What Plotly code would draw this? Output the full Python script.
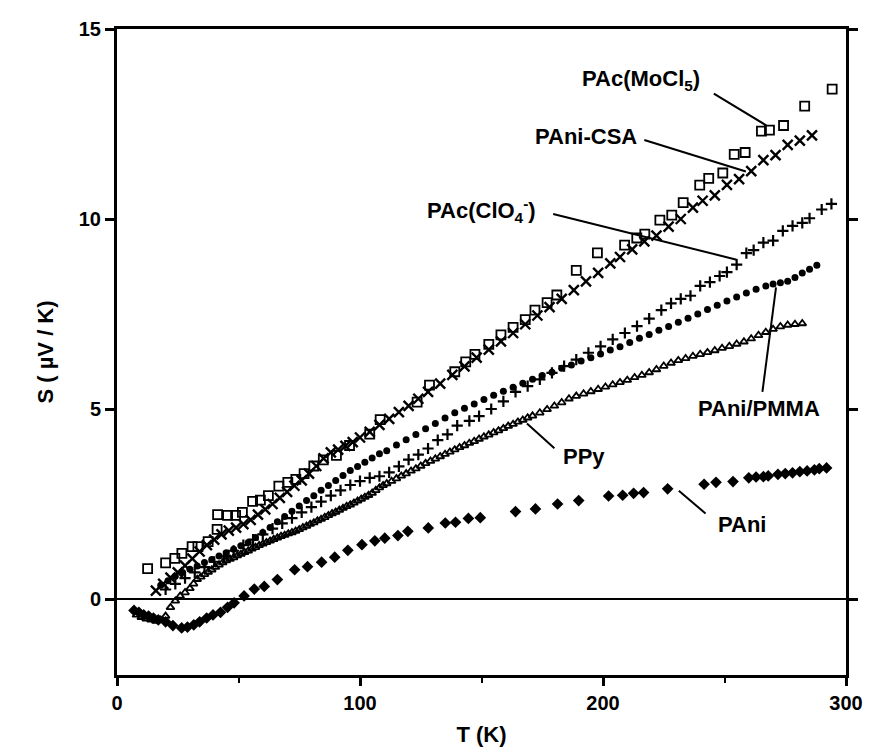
import plotly.graph_objects as go

# ---------------- data ----------------
mocl5_T = [12.6, 20, 23.8, 26.7, 30.9, 33.3, 37.5, 41.2, 41.4, 45.5, 48.8, 51.6, 55.8, 59, 62.3, 66.6,
           70.3, 73.6, 77, 81, 84.9, 90.3, 95.7, 104, 108.3, 123.5, 128.6, 139, 143.5, 147.3, 153, 158,
           163, 168, 172, 177, 181, 189, 197.7, 208.9, 213.9, 217.2, 223.4, 228.3, 233, 239.8, 243.5,
           249.3, 254, 258.5, 265.2, 268.5, 274.3, 283, 294.3]
mocl5_S = [0.80, 0.95, 1.07, 1.20, 1.38, 1.38, 1.51, 1.83, 2.22, 2.20, 2.20, 2.28, 2.57, 2.60, 2.72, 2.97,
           3.07, 3.15, 3.30, 3.50, 3.66, 3.78, 4.04, 4.34, 4.72, 5.18, 5.63, 5.98, 6.24, 6.44, 6.70, 6.95,
           7.15, 7.35, 7.60, 7.80, 8.00, 8.65, 9.11, 9.31, 9.50, 9.60, 9.97, 10.10, 10.43, 10.89, 11.07,
           11.21, 11.70, 11.75, 12.31, 12.34, 12.46, 12.97, 13.42]

csa_T = [16, 19, 22, 25, 28, 31, 34, 37, 40, 43, 46, 49, 52, 55, 58, 61, 64, 67, 70, 73, 76, 79, 82, 85,
         88, 91, 94, 97, 100, 104, 108, 112, 116, 120, 124, 128, 133, 138, 143, 148, 153, 158, 163, 168,
         173, 178, 183, 188, 193, 198, 203, 207, 212, 217, 222, 227, 232, 237, 241, 246, 251, 256, 261,
         266, 271, 276, 281, 286]
csa_S = [0.22, 0.40, 0.56, 0.70, 0.88, 1.06, 1.25, 1.42, 1.56, 1.70, 1.80, 1.88, 1.97, 2.08, 2.22, 2.36,
         2.50, 2.66, 2.82, 2.98, 3.12, 3.30, 3.50, 3.70, 3.86, 3.93, 4.03, 4.13, 4.25, 4.40, 4.58, 4.74,
         4.92, 5.08, 5.27, 5.45, 5.67, 5.90, 6.12, 6.35, 6.56, 6.78, 7.00, 7.23, 7.46, 7.68, 7.90, 8.13,
         8.36, 8.58, 8.83, 9.00, 9.20, 9.41, 9.56, 9.80, 10.00, 10.30, 10.48, 10.62, 10.90, 11.05, 11.26,
         11.55, 11.68, 11.95, 12.06, 12.20]

clo4_T = [20, 24, 28, 32, 36, 40, 44, 48, 52, 56, 60, 64, 68, 72, 76, 80, 84, 88, 92, 96, 100, 104, 108,
          112, 116, 120, 124, 128, 132, 136, 140, 145, 149, 154, 159, 164, 169, 174, 179, 184, 189, 194,
          199, 204, 209, 214, 219, 224, 228, 232, 236, 240, 244, 248, 251, 255, 259, 262, 266, 270, 274,
          278, 282, 285, 290, 294]
clo4_S = [0.25, 0.40, 0.55, 0.70, 0.84, 0.98, 1.12, 1.27, 1.42, 1.56, 1.70, 1.85, 1.99, 2.13, 2.28, 2.42,
          2.56, 2.72, 2.86, 3.00, 3.10, 3.19, 3.23, 3.33, 3.49, 3.67, 3.80, 3.96, 4.18, 4.33, 4.56, 4.69,
          4.81, 5.00, 5.20, 5.45, 5.60, 5.78, 5.95, 6.13, 6.30, 6.48, 6.65, 6.83, 7.00, 7.18, 7.38, 7.60,
          7.78, 7.90, 7.98, 8.24, 8.34, 8.50, 8.60, 8.80, 9.10, 9.18, 9.38, 9.43, 9.69, 9.82, 9.90, 10.02,
          10.25, 10.40]

pmma_T = [18, 21, 24, 27, 30, 33, 36, 39, 42, 45, 48, 51, 54, 57, 60, 63, 66, 69, 72, 75, 78, 81, 84, 87,
          90, 93, 96, 99, 102, 105, 108, 111, 115, 119, 123, 127, 131, 135, 139, 143, 147, 151, 155, 159,
          163, 167, 171, 175, 179, 183, 187, 191, 195, 199, 203, 207, 211, 215, 219, 223, 227, 231, 235,
          239, 243, 247, 251, 255, 259, 263, 267, 270, 273, 276, 279, 282, 285, 288]
pmma_S = [0.36, 0.48, 0.60, 0.70, 0.78, 0.87, 0.96, 1.04, 1.13, 1.22, 1.31, 1.40, 1.49, 1.62, 1.75, 1.88,
          2.03, 2.17, 2.31, 2.45, 2.59, 2.72, 2.86, 2.99, 3.12, 3.25, 3.38, 3.49, 3.60, 3.71, 3.82, 3.90,
          4.05, 4.19, 4.33, 4.48, 4.62, 4.76, 4.90, 5.02, 5.13, 5.25, 5.36, 5.47, 5.57, 5.68, 5.78, 5.88,
          5.97, 6.07, 6.16, 6.26, 6.35, 6.45, 6.55, 6.64, 6.75, 6.86, 6.96, 7.07, 7.17, 7.28, 7.39, 7.50,
          7.62, 7.73, 7.84, 7.95, 8.05, 8.15, 8.24, 8.29, 8.32, 8.36, 8.46, 8.58, 8.68, 8.78]

ppy_T = [8, 10, 12, 14, 16, 18, 20, 22, 24, 26, 28, 30, 31.5, 33, 34.5, 36, 37.5, 39, 40.5, 42, 43.5, 45,
         46.5, 48, 49.5, 51, 52.5, 54, 55.5, 57, 58.5, 60, 61.5, 63, 64.5, 66, 67.5, 69, 70.5, 72, 73.5, 75,
         76.5, 78, 79.5, 81, 82.5, 84, 85.5, 87, 88.5, 90, 91.5, 93, 94.5, 96, 97.5, 99, 100.5, 102, 103.5,
         105, 106.5, 108, 109.5, 111, 113, 115, 117, 119, 121, 123, 125, 127, 129, 131, 133, 135, 137, 139,
         141, 143, 145, 147, 149, 151, 153, 155, 157, 159, 161, 163, 165, 167, 169, 171, 174, 177, 180, 183,
         186, 189, 192, 195, 198, 201, 204, 207, 210, 213, 216, 219, 222, 225, 228, 231, 234, 237, 240, 243,
         246, 249, 252, 255, 258, 261, 264, 267, 270, 273, 276, 279, 282]
ppy_S = [-0.42, -0.48, -0.52, -0.55, -0.58, -0.55, -0.45, -0.22, -0.05, 0.08, 0.17, 0.28, 0.40, 0.52, 0.58,
         0.65, 0.71, 0.77, 0.84, 0.90, 0.96, 1.01, 1.05, 1.09, 1.14, 1.18, 1.23, 1.27, 1.32, 1.36, 1.41,
         1.45, 1.49, 1.53, 1.57, 1.61, 1.65, 1.68, 1.72, 1.75, 1.79, 1.83, 1.88, 1.92, 1.97, 2.01, 2.06,
         2.10, 2.15, 2.20, 2.25, 2.29, 2.34, 2.39, 2.44, 2.48, 2.53, 2.58, 2.63, 2.68, 2.73, 2.79, 2.86,
         2.93, 2.99, 3.04, 3.10, 3.17, 3.24, 3.30, 3.37, 3.43, 3.50, 3.57, 3.63, 3.69, 3.75, 3.81, 3.87,
         3.93, 3.99, 4.04, 4.10, 4.15, 4.21, 4.27, 4.32, 4.38, 4.43, 4.49, 4.55, 4.60, 4.66, 4.71, 4.77,
         4.82, 4.90, 4.99, 5.08, 5.17, 5.27, 5.34, 5.40, 5.46, 5.52, 5.58, 5.64, 5.70, 5.76, 5.83, 5.89,
         5.96, 6.04, 6.13, 6.21, 6.28, 6.33, 6.39, 6.44, 6.49, 6.54, 6.60, 6.65, 6.71, 6.77, 6.85, 6.94,
         7.02, 7.10, 7.17, 7.21, 7.23, 7.25]

pani_T = [7, 9, 11, 13, 15, 17, 20, 23, 26.6, 29, 31.6, 34, 36.9, 39.5, 42.6, 45.5, 48.2, 52.3, 56.5, 60.6,
          66, 73.1, 78.4, 84.2, 89.6, 95, 100.8, 106.1, 110.2, 115.6, 119.7, 128.1, 135.1, 139.3, 144.6,
          149.5, 164, 172.2, 181.3, 190, 202.3, 208.1, 212.6, 216.7, 226.6, 241.6, 246.5, 253.5, 260, 263,
          266, 268, 272, 275, 278, 281, 284, 287, 289, 292]
pani_S = [-0.30, -0.35, -0.42, -0.45, -0.50, -0.55, -0.60, -0.70, -0.76, -0.74, -0.68, -0.60, -0.50, -0.42,
          -0.35, -0.22, -0.10, 0.08, 0.26, 0.33, 0.51, 0.77, 0.85, 0.97, 1.10, 1.28, 1.43, 1.53, 1.60, 1.67,
          1.78, 1.87, 2.00, 2.02, 2.12, 2.14, 2.30, 2.37, 2.50, 2.59, 2.71, 2.73, 2.78, 2.80, 2.90, 3.02,
          3.07, 3.09, 3.19, 3.21, 3.22, 3.24, 3.28, 3.30, 3.32, 3.35, 3.37, 3.40, 3.43, 3.45]

x_ticks = [0, 100, 200, 300]
y_ticks = [0, 5, 10, 15]

# ---------------- figure ----------------
fig = go.Figure()
K = "black"
fig.add_trace(go.Scatter(x=mocl5_T, y=mocl5_S, mode="markers", name="PAc(MoCl5)",
                         marker=dict(symbol="square-open", size=9, color=K, line=dict(width=1.8, color=K))))
fig.add_trace(go.Scatter(x=csa_T, y=csa_S, mode="markers", name="PAni-CSA",
                         marker=dict(symbol="x-thin-open", size=10, color=K, line=dict(width=2.4, color=K))))
fig.add_trace(go.Scatter(x=clo4_T, y=clo4_S, mode="markers", name="PAc(ClO4-)",
                         marker=dict(symbol="cross-thin-open", size=8, color=K, line=dict(width=2.2, color=K))))
fig.add_trace(go.Scatter(x=pmma_T, y=pmma_S, mode="markers", name="PAni/PMMA",
                         marker=dict(symbol="circle", size=7, color=K, line=dict(width=0))))
fig.add_trace(go.Scatter(x=ppy_T, y=ppy_S, mode="markers", name="PPy",
                         marker=dict(symbol="triangle-up-open", size=7, color=K, line=dict(width=1.8, color=K))))
fig.add_trace(go.Scatter(x=pani_T, y=pani_S, mode="markers", name="PAni",
                         marker=dict(symbol="diamond", size=9, color=K, line=dict(width=0))))

font_fam = "Liberation Sans, Arial, sans-serif"
labels = [
    ("<b>PAc(MoCl<sub>5</sub>)</b>", 215.6, 13.65, 245.6, 13.3, 267.3, 12.46),
    ("<b>PAni-CSA</b>", 193, 12.18, 217, 12.08, 258.8, 11.25),
    ("<b>PAc(ClO<sub>4</sub><sup>-</sup>)</b>", 150, 10.23, 179.5, 10.13, 255, 8.93),
    ("<b>PAni/PMMA</b>", 264.2, 5.01, 265.6, 5.45, 271.2, 8.2),
    ("<b>PPy</b>", 192.3, 3.76, 180, 3.97, 168.7, 4.62),
    ("<b>PAni</b>", 257.3, 1.95, 242.2, 2.25, 231.2, 2.85),
]
for txt, tx, ty, x0, y0, x1, y1 in labels:
    fig.add_annotation(x=tx, y=ty, xref="x", yref="y", text=txt, showarrow=False,
                       font=dict(family=font_fam, size=22, color=K))
    fig.add_shape(type="line", xref="x", yref="y", x0=x0, y0=y0, x1=x1, y1=y1,
                  line=dict(color=K, width=2))

fig.update_layout(
    width=884, height=756,
    margin=dict(l=109, r=46, t=10, b=89),
    paper_bgcolor="white", plot_bgcolor="white",
    showlegend=False,
    font=dict(family=font_fam, size=20, color=K),
)
fig.update_xaxes(range=[0, 300], tickvals=x_ticks, ticktext=["<b>0</b>", "<b>100</b>", "<b>200</b>", "<b>300</b>"],
                 ticks="outside", ticklen=8, tickwidth=2.5,
                 tickcolor=K, showline=True, linewidth=3, linecolor=K, mirror=True,
                 showgrid=False, zeroline=False, tickfont=dict(size=20),
                 minor=dict(dtick=50, ticks="outside", ticklen=5, tickwidth=2, tickcolor=K, showgrid=False),
                 title=dict(text="<b>T (K)</b>", font=dict(size=22), standoff=14))
fig.update_yaxes(range=[-2, 15], tickvals=y_ticks, ticktext=["<b>0</b>", "<b>5</b>", "<b>10</b>", "<b>15</b>"],
                 ticks="outside", ticklen=9, tickwidth=2.5,
                 tickcolor=K, showline=True, linewidth=3, linecolor=K, mirror="ticks",
                 showgrid=False, zeroline=True, zerolinecolor=K, zerolinewidth=1.5,
                 tickfont=dict(size=20),
                 title=dict(text="<b>S ( µV / K)</b>", font=dict(size=22), standoff=20))

fig.write_html("out.html")
